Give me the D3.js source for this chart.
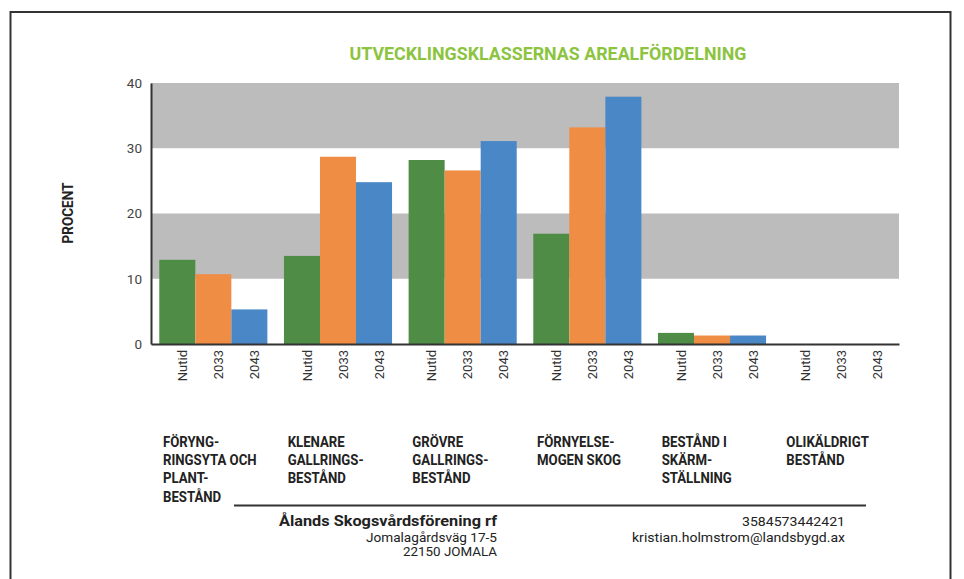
<!DOCTYPE html>
<html>
<head>
<meta charset="utf-8">
<script src="https://cdn.jsdelivr.net/npm/d3@7"></script>
<style>
  body { margin: 0; background: #fff; }
  svg { display: block; font-family: Roboto, "Liberation Sans", sans-serif; }
</style>
</head>
<body>
<svg width="964" height="579"></svg>
<script>
// category labels, one array of lines per group
const categories = [
    ["FÖRYNG-", "RINGSYTA OCH", "PLANT-", "BESTÅND"],
    ["KLENARE", "GALLRINGS-", "BESTÅND"],
    ["GRÖVRE", "GALLRINGS-", "BESTÅND"],
    ["FÖRNYELSE-", "MOGEN SKOG"],
    ["BESTÅND I", "SKÄRM-", "STÄLLNING"],
    ["OLIKÄLDRIGT", "BESTÅND"]
];
const periods = ["Nutid", "2033", "2043"];
const nutid = [12.9, 13.5, 28.2, 16.9, 1.7, 0];
const y2033 = [10.7, 28.7, 26.6, 33.2, 1.3, 0];
const y2043 = [5.3, 24.8, 31.1, 37.9, 1.3, 0];
const yTicks = [0, 10, 20, 30, 40];
const bands = [[10, 20], [30, 40]];
const colors = ["#4f8c46", "#f08d45", "#4a87c6"];

const series = [nutid, y2033, y2043];
const data = categories.map((c, i) => ({
    id: i,
    lines: c,
    values: periods.map((p, j) => ({ period: p, value: series[j][i] }))
}));

const svg = d3.select("svg");

// frame
svg.append("rect")
    .attr("x", 10.5).attr("y", 12)
    .attr("width", 940).attr("height", 620)
    .attr("fill", "none").attr("stroke", "#333").attr("stroke-width", 2);

// title
svg.append("text")
    .attr("x", 548).attr("y", 60)
    .attr("text-anchor", "middle")
    .attr("font-size", 18).attr("font-weight", "bold")
    .attr("fill", "#8cc43f")
    .attr("textLength", 397).attr("lengthAdjust", "spacingAndGlyphs")
    .text("UTVECKLINGSKLASSERNAS AREALFÖRDELNING");

const x0 = d3.scaleBand()
    .domain(data.map(d => d.id))
    .range([151, 899])
    .paddingInner(0).paddingOuter(0);

const x1 = d3.scaleBand()
    .domain(periods)
    .range([0, x0.bandwidth()])
    .paddingInner(0).paddingOuter(0.23);

const y = d3.scaleLinear()
    .domain([0, 40])
    .range([344, 83]);

// grey bands
svg.append("g").selectAll("rect")
    .data(bands)
    .enter().append("rect")
    .attr("x", 151).attr("width", 899 - 151)
    .attr("y", d => y(d[1]))
    .attr("height", d => y(d[0]) - y(d[1]))
    .attr("fill", "#bbbcbb");

// bars
const groups = svg.append("g").selectAll(".group")
    .data(data)
    .enter().append("g")
    .attr("class", "group")
    .attr("transform", d => `translate(${x0(d.id)},0)`);

groups.selectAll("rect")
    .data(d => d.values)
    .enter().append("rect")
    .attr("x", d => x1(d.period))
    .attr("width", x1.bandwidth())
    .attr("y", d => y(d.value))
    .attr("height", d => y(0) - y(d.value))
    .attr("fill", (d, i) => colors[i]);

// per-group period labels
groups.append("g")
    .attr("transform", `translate(0,${y(0)})`)
    .call(d3.axisBottom(x1).tickSize(0))
    .call(g => g.select(".domain").remove())
    .selectAll("text")
    .attr("x", 0).attr("y", 5)
    .attr("dy", "0.35em")
    .attr("transform", "rotate(-90) translate(-6,0)")
    .attr("text-anchor", "end")
    .attr("font-family", "Roboto, sans-serif")
    .attr("font-size", 13)
    .attr("fill", "#333");

// y axis
svg.append("g")
    .attr("transform", "translate(151,0)")
    .call(d3.axisLeft(y).tickValues(yTicks).tickSize(0).tickPadding(9))
    .call(g => g.select(".domain").attr("stroke", "#333").attr("stroke-width", 2))
    .selectAll("text")
    .attr("font-family", "Roboto, sans-serif")
    .attr("font-size", 13.5)
    .attr("fill", "#444");

// x baseline
svg.append("g")
    .attr("transform", `translate(0,${y(0)})`)
    .call(d3.axisBottom(x0).tickSize(0).tickFormat(""))
    .call(g => g.select(".domain").attr("stroke", "#333").attr("stroke-width", 2));

svg.append("text")
    .attr("transform", "translate(73,213) rotate(-90)")
    .attr("text-anchor", "middle")
    .attr("font-size", 15).attr("font-weight", "bold")
    .attr("fill", "#222")
    .attr("textLength", 61).attr("lengthAdjust", "spacingAndGlyphs")
    .text("PROCENT");

// category labels
const catLabels = svg.append("g").selectAll(".cat")
    .data(data)
    .enter().append("g")
    .attr("class", "cat")
    .attr("transform", d => `translate(${x0(d.id) + 12},446.5) scale(0.88,1)`);

catLabels.selectAll("text")
    .data(d => d.lines)
    .enter().append("text")
    .attr("y", (d, i) => i * 18.5)
    .attr("font-size", 15).attr("font-weight", "bold")
    .attr("fill", "#222")
    .text(d => d);

// footer
svg.append("line")
    .attr("x1", 234).attr("x2", 866)
    .attr("y1", 505.5).attr("y2", 505.5)
    .attr("stroke", "#333").attr("stroke-width", 2);

const footer = [
    { text: "Ålands Skogsvårdsförening rf", x: 497, y: 526, size: 15, bold: true, w: 218 },
    { text: "Jomalagårdsväg 17-5", x: 497, y: 542, size: 13, bold: false, w: 131 },
    { text: "22150 JOMALA", x: 497, y: 556, size: 13, bold: false, w: 94 },
    { text: "3584573442421", x: 845, y: 526, size: 13, bold: false, w: 103 },
    { text: "kristian.holmstrom@landsbygd.ax", x: 845, y: 542, size: 13, bold: false, w: 213 }
];

svg.append("g").selectAll("text")
    .data(footer)
    .enter().append("text")
    .attr("x", d => d.x).attr("y", d => d.y)
    .attr("text-anchor", "end")
    .attr("font-size", d => d.size)
    .attr("font-weight", d => d.bold ? "bold" : "normal")
    .attr("fill", "#222")
    .attr("textLength", d => d.w).attr("lengthAdjust", "spacingAndGlyphs")
    .text(d => d.text);
</script>
</body>
</html>
